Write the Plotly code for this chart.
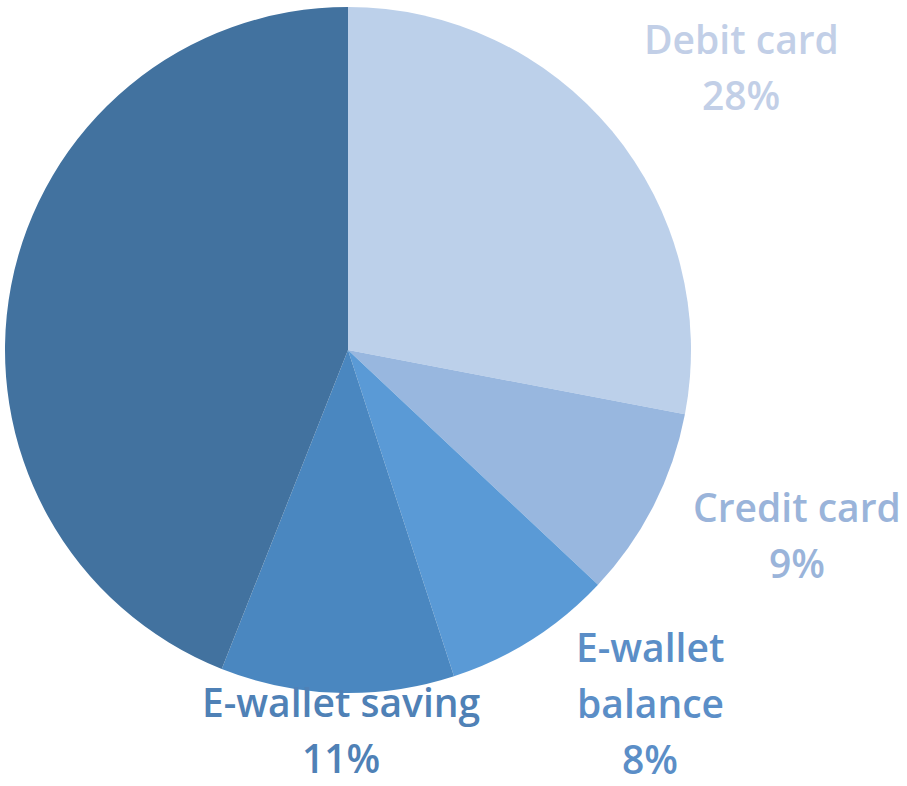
import plotly.graph_objects as go

# Payment methods, clockwise from 12 o'clock
labels = ["Debit card", "Credit card", "E-wallet balance", "E-wallet saving", "Other"]
values = [28, 9, 8, 11, 44]
slice_colors = ["#BCD0EA", "#98B7DF", "#5A9AD6", "#4A87C0", "#42729F"]
label_colors = ["#C2CFE7", "#9AB4DA", "#5B8EC7", "#4F81B6", None]
# line breaks used in the outside labels
wrapped = {"E-wallet balance": ["E-wallet", "balance"]}

W, H = 907, 786
fig = go.Figure(
    go.Pie(
        labels=labels,
        values=values,
        sort=False,
        direction="clockwise",
        rotation=0,
        marker=dict(colors=slice_colors, line=dict(width=0)),
        textinfo="none",
        hoverinfo="label+percent",
        domain=dict(x=[5 / W, 691 / W], y=[1 - 693 / H, 1 - 7 / H]),
        showlegend=False,
    )
)

# label blocks: centre x and y of the first line (pixels), line pitch
label_pos = {
    "Debit card": (741, 38),
    "Credit card": (797, 506),
    "E-wallet balance": (650, 646),
    "E-wallet saving": (341, 701),
}
pitch = 56

annotations = []
for name, val, col in zip(labels, values, label_colors):
    if name not in label_pos:
        continue
    cx, cy = label_pos[name]
    lines = wrapped.get(name, [name]) + [f"{val}%"]
    for i, line in enumerate(lines):
        annotations.append(
            dict(
                text=line,
                x=cx / W,
                y=1 - (cy + i * pitch) / H,
                xref="paper",
                yref="paper",
                xanchor="center",
                yanchor="middle",
                showarrow=False,
                borderpad=0,
                font=dict(family="Open Sans", size=39, color=col, weight=600),
            )
        )

fig.update_layout(
    width=W,
    height=H,
    margin=dict(l=0, r=0, t=0, b=0),
    paper_bgcolor="white",
    plot_bgcolor="white",
    annotations=annotations,
)

fig.write_html("out.html")
